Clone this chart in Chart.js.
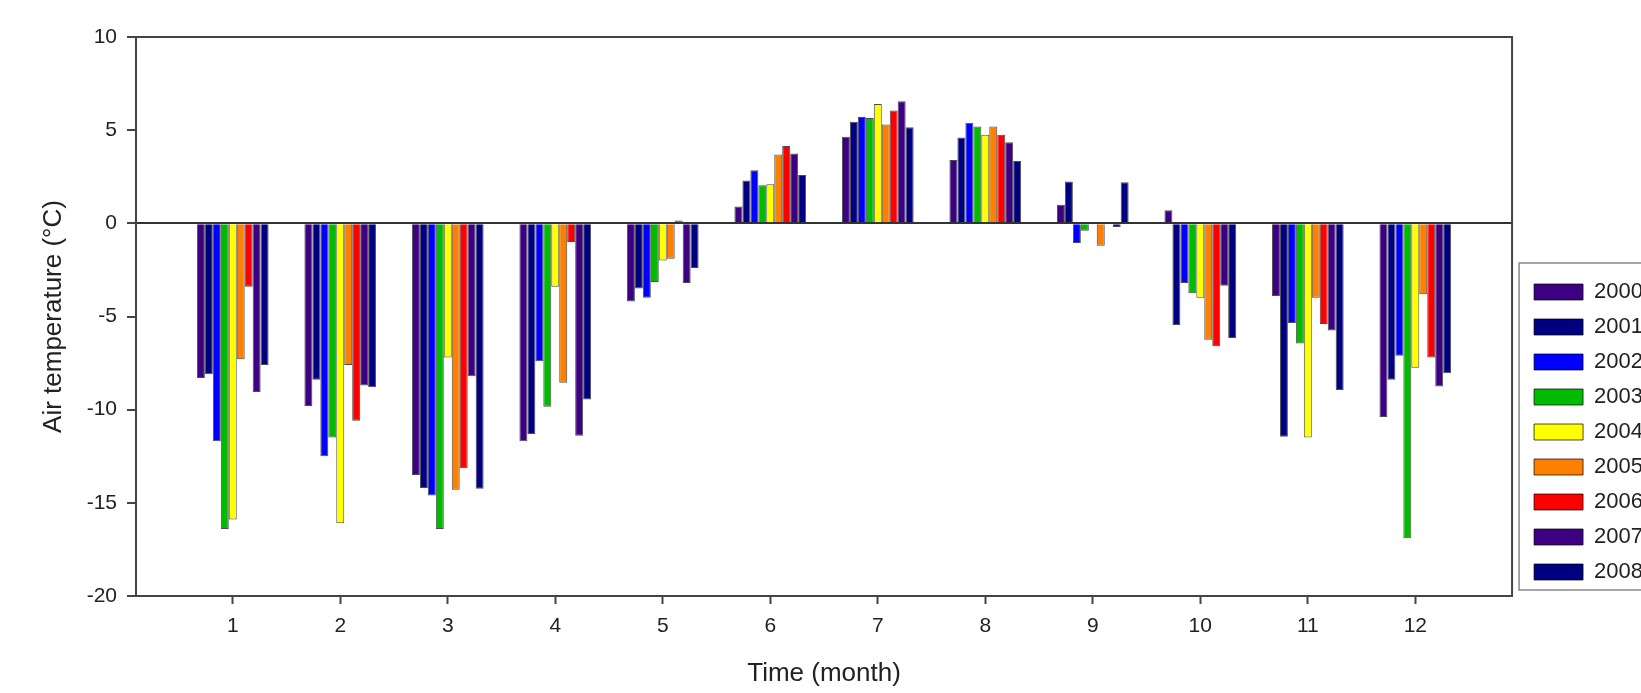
<!DOCTYPE html>
<html>
<head>
<meta charset="utf-8">
<script src="https://cdn.jsdelivr.net/npm/chart.js@4/dist/chart.umd.min.js"></script>
<style>
  html, body { margin: 0; padding: 0; background: #fff; overflow: hidden; }
  #wrap { width: 1653px; height: 693px; }
</style>
</head>
<body>
<div id="wrap"><canvas id="chart_container" width="1653" height="693"></canvas></div>
<script>
// monthly mean air temperature, one array per year
const months = [1, 2, 3, 4, 5, 6, 7, 8, 9, 10, 11, 12]
const years  = ['2000', '2001', '2002', '2003', '2004', '2005', '2006', '2007', '2008']

const t2000 = [-8.3, -9.8, -13.5, -11.7, -4.2, 0.9, 4.65, 3.4, 1.0, 0.7, -3.9, -10.4]
const t2001 = [-8.1, -8.4, -14.2, -11.3, -3.5, 2.3, 5.45, 4.6, 2.25, -5.45, -11.45, -8.4]
const t2002 = [-11.7, -12.5, -14.6, -7.4, -4.0, 2.85, 5.7, 5.4, -1.05, -3.2, -5.35, -7.1]
const t2003 = [-16.4, -11.5, -16.4, -9.85, -3.15, 2.05, 5.65, 5.2, -0.4, -3.75, -6.45, -16.9]
const t2004 = [-15.9, -16.1, -7.2, -3.4, -2.0, 2.1, 6.4, 4.75, 0, -4.0, -11.5, -7.75]
const t2005 = [-7.3, -7.6, -14.3, -8.55, -1.9, 3.7, 5.3, 5.2, -1.2, -6.25, -4.0, -3.8]
const t2006 = [-3.4, -10.6, -13.15, -1.0, 0.15, 4.15, 6.05, 4.75, -0.05, -6.6, -5.4, -7.2]
const t2007 = [-9.05, -8.7, -8.2, -11.4, -3.2, 3.75, 6.55, 4.35, -0.2, -3.35, -5.75, -8.75]
const t2008 = [-7.6, -8.8, -14.25, -9.45, -2.4, 2.6, 5.15, 3.35, 2.2, -6.15, -8.95, -8.05]

const series = [t2000, t2001, t2002, t2003, t2004, t2005, t2006, t2007, t2008]
const colors = ['#3d0083', '#000080', '#0000ff', '#00bb00', '#ffff00', '#ff8000', '#ff0000', '#3d0083', '#000080']

const FONT = "'Liberation Sans', Arial, sans-serif"

// frame round the plot and round the legend
const framePlugin = {
    id: 'frame',
    afterDraw(chart) {
        const ctx = chart.ctx
        const a = chart.chartArea
        ctx.save()
        ctx.strokeStyle = '#444'
        ctx.lineWidth = 2
        ctx.strokeRect(a.left, a.top, a.right - a.left, a.bottom - a.top)

        const lg = chart.legend
        const boxes = lg.legendHitBoxes
        if (boxes && boxes.length) {
            const top = boxes[0].top - 18
            const bottom = boxes[boxes.length - 1].top + boxes[boxes.length - 1].height + 7
            ctx.strokeStyle = '#888'
            ctx.lineWidth = 1.5
            ctx.strokeRect(lg.left - 2, top, chart.width, bottom - top)
        }
        ctx.restore()
    }
}

new Chart(document.getElementById('chart_container'), {
    type: 'bar',
    data: {
        datasets: years.map((y, i) => ({
            label: y,
            data: months.map((m, j) => ({ x: m, y: series[i][j] })),
            backgroundColor: colors[i],
            borderColor: 'rgba(0,0,0,0.7)',
            borderWidth: 1,
            categoryPercentage: 0.667,
            barPercentage: 1.0
        }))
    },
    options: {
        responsive: false,
        animation: false,
        layout: { padding: { top: 37, left: 0, right: 0, bottom: 0 } },
        plugins: {
            legend: {
                position: 'right',
                align: 'end',
                fullSize: false,
                labels: {
                    boxWidth: 49,
                    boxHeight: 16,
                    padding: 13,
                    color: '#222',
                    font: { family: FONT, size: 22 }
                }
            },
            tooltip: { enabled: false }
        },
        scales: {
            x: {
                type: 'linear',
                min: 0.1,
                max: 12.9,
                offset: false,
                afterBuildTicks: s => { s.ticks = months.map(m => ({ value: m })) },
                afterFit: s => { s.height = 97 },
                grid: { display: true, drawOnChartArea: false, offset: false, tickLength: 8, tickColor: '#444', tickWidth: 2 },
                border: { display: false },
                ticks: { color: '#222', padding: 10, maxRotation: 0, font: { family: FONT, size: 21 } },
                title: {
                    display: true,
                    text: 'Time (month)',
                    color: '#222',
                    font: { family: FONT, size: 26 },
                    padding: { top: 0, bottom: 4 }
                }
            },
            y: {
                min: -20,
                max: 10,
                afterFit: s => { s.width = 136 },
                ticks: { stepSize: 5, color: '#222', padding: 10, font: { family: FONT, size: 21 } },
                grid: {
                    drawOnChartArea: true,
                    tickLength: 9,
                    tickColor: '#444',
                    tickWidth: 2,
                    lineWidth: 2,
                    color: c => (c.tick && c.tick.value === 0) ? '#333' : 'rgba(0,0,0,0)'
                },
                border: { display: false },
                title: {
                    display: true,
                    text: 'Air temperature (°C)',
                    color: '#222',
                    font: { family: FONT, size: 26 },
                    padding: { top: 38, bottom: 0 }
                }
            },
            // empty axis that only keeps a small gap between plot and legend
            gap: {
                type: 'linear',
                position: 'right',
                display: true,
                afterFit: s => { s.width = 9 },
                grid: { display: false },
                ticks: { display: false },
                border: { display: false }
            }
        }
    },
    plugins: [framePlugin]
})
</script>
</body>
</html>
